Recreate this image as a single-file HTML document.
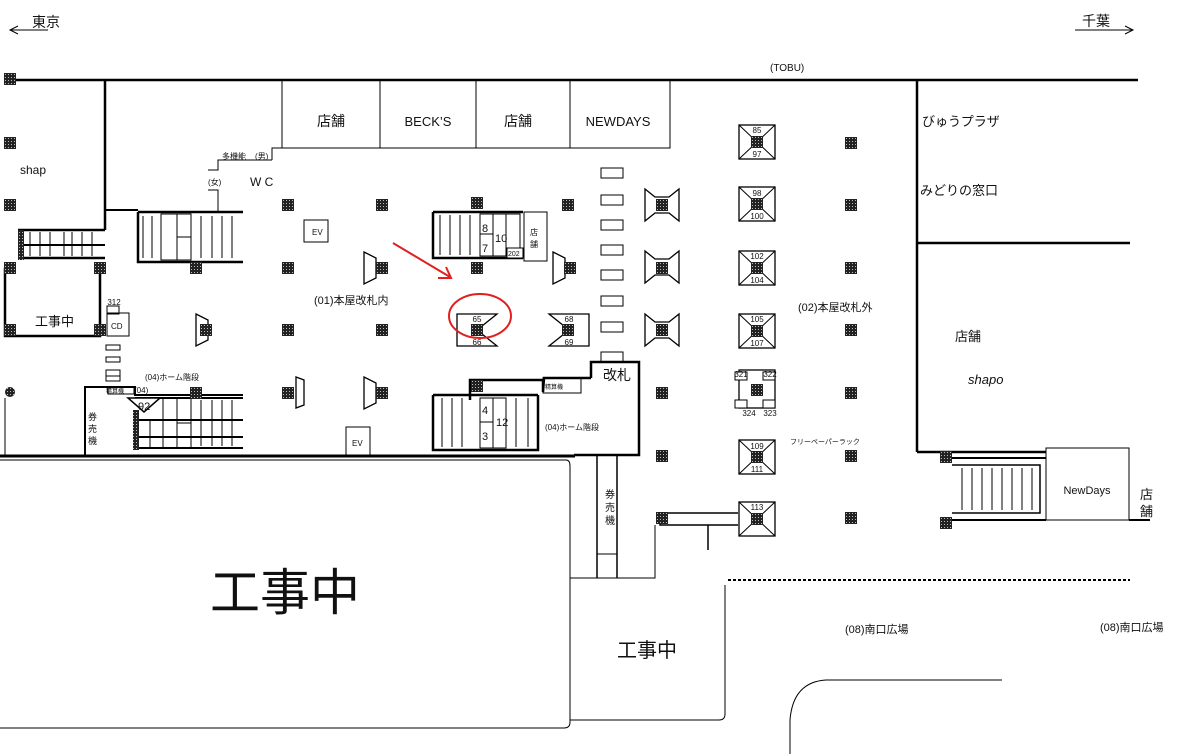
<!DOCTYPE html>
<html><head><meta charset="utf-8"><style>
html,body{margin:0;padding:0;background:#fff;}
svg{display:block;}
text{font-family:"Liberation Sans","Noto Sans CJK JP",sans-serif;fill:#111;}
</style></head><body>
<svg width="1184" height="754" viewBox="0 0 1184 754" xmlns="http://www.w3.org/2000/svg">
<defs>
<pattern id="h" width="3" height="3" patternUnits="userSpaceOnUse"><rect width="3" height="3" fill="#222"/><rect x="1" y="1" width="1" height="1" fill="#bbb"/></pattern>
<g id="p"><rect x="-6" y="-6" width="12" height="12" fill="url(#h)"/></g>
</defs>
<g stroke="#000" fill="none">
<line x1="10" y1="30" x2="48" y2="30" stroke-width="1"/><path d="M18,26 L10,30 L18,34" stroke-width="1"/>
<line x1="1075" y1="30" x2="1133" y2="30" stroke-width="1"/><path d="M1125,26 L1133,30 L1125,34" stroke-width="1"/>
<line x1="10" y1="80" x2="1138" y2="80" stroke-width="2.5"/>
<rect x="282" y="80" width="388" height="68" stroke-width="1"/>
<line x1="380" y1="80" x2="380" y2="148"/><line x1="476" y1="80" x2="476" y2="148"/><line x1="570" y1="80" x2="570" y2="148"/>
<line x1="105" y1="80" x2="105" y2="230" stroke-width="2.5"/>
<line x1="105" y1="210" x2="138" y2="210" stroke-width="2"/>
<path d="M272,160 L272,148 L282,148" stroke-width="1"/><path d="M208,170 L218,170 L218,160 L272,160" stroke-width="1"/>
<path d="M208,190 L218,190 L218,212" stroke-width="1"/>
<path d="M138,212 L243,212 M138,212 L138,262 L243,262" stroke-width="2.5"/>
<g stroke-width="1"><line x1="143" y1="216" x2="143" y2="258"/><line x1="152" y1="216" x2="152" y2="258"/><line x1="201" y1="216" x2="201" y2="258"/><line x1="212" y1="216" x2="212" y2="258"/><line x1="222" y1="216" x2="222" y2="258"/><line x1="232" y1="216" x2="232" y2="258"/></g>
<rect x="161" y="214" width="16" height="46"/><rect x="177" y="214" width="14" height="46"/><line x1="177" y1="237" x2="191" y2="237"/>
<path d="M18,230 L105,230 M18,258 L105,258" stroke-width="2.5"/>
<path d="M18,245 L105,245" stroke-width="2"/>
<g stroke-width="1"><line x1="30" y1="232" x2="30" y2="256"/><line x1="40" y1="232" x2="40" y2="256"/><line x1="50" y1="232" x2="50" y2="256"/><line x1="64" y1="232" x2="64" y2="256"/><line x1="72" y1="232" x2="72" y2="256"/><line x1="82" y1="232" x2="82" y2="256"/><line x1="92" y1="232" x2="92" y2="256"/></g>
<rect x="18" y="230" width="6" height="30" fill="url(#h)" stroke="none"/>
<path d="M5,268 L5,336 L100,336 L100,268" stroke-width="2.5"/>
<rect x="107" y="306" width="12" height="8" stroke-width="1"/><rect x="107" y="313" width="22" height="23" stroke-width="1"/>
<rect x="106" y="345" width="14" height="5"/><rect x="106" y="357" width="14" height="5"/><rect x="106" y="370" width="14" height="6"/><rect x="106" y="376" width="14" height="5"/>
<path d="M85,456 L85,387 L135,387 L135,395 L243,395" stroke-width="2"/>
<path d="M135,398 L243,398 M135,420 L243,420 M135,437 L243,437 M135,448 L243,448" stroke-width="2"/>
<rect x="163" y="398" width="14" height="50" stroke-width="1"/><rect x="177" y="398" width="14" height="50" stroke-width="1"/><line x1="177" y1="423" x2="191" y2="423"/>
<g stroke-width="1"><line x1="201" y1="400" x2="201" y2="446"/><line x1="212" y1="400" x2="212" y2="446"/><line x1="222" y1="400" x2="222" y2="446"/><line x1="232" y1="400" x2="232" y2="446"/><line x1="150" y1="420" x2="150" y2="448"/></g>
<rect x="133" y="410" width="6" height="40" fill="url(#h)" stroke="none"/>
<path d="M128,398 L160,398 L144,412 Z" stroke-width="1.5" fill="#fff"/>
<rect x="108" y="387" width="26" height="7" stroke-width="1"/>
<circle cx="10" cy="392" r="5" fill="url(#h)" stroke="none"/><line x1="5" y1="398" x2="5" y2="456" stroke-width="1"/>
<rect x="304" y="220" width="24" height="22" stroke-width="1"/>
<rect x="346" y="427" width="24" height="29" stroke-width="1"/>
<path d="M433,212 L523,212 M433,212 L433,258 L523,258" stroke-width="2.5"/>
<g stroke-width="1"><line x1="440" y1="215" x2="440" y2="255"/><line x1="450" y1="215" x2="450" y2="255"/><line x1="460" y1="215" x2="460" y2="255"/><line x1="470" y1="215" x2="470" y2="255"/></g>
<rect x="480" y="214" width="13" height="42"/><rect x="493" y="214" width="13" height="42"/><line x1="480" y1="234" x2="493" y2="234"/>
<rect x="506" y="214" width="14" height="42"/><rect x="507" y="248" width="16" height="10" fill="#fff"/>
<rect x="524" y="212" width="23" height="49" stroke-width="1"/>
<path d="M470,400 L470,380 L543,380 L543,392 L544,378 L591,378 M433,395 L538,395 M433,395 L433,450 L538,450 L538,395" stroke-width="2.5"/>
<g stroke-width="1"><line x1="442" y1="398" x2="442" y2="447"/><line x1="452" y1="398" x2="452" y2="447"/><line x1="462" y1="398" x2="462" y2="447"/><line x1="516" y1="398" x2="516" y2="447"/><line x1="528" y1="398" x2="528" y2="447"/></g>
<rect x="480" y="398" width="13" height="50"/><rect x="493" y="398" width="13" height="50"/><line x1="480" y1="422" x2="493" y2="422"/>
<rect x="543" y="378" width="38" height="15" stroke-width="1"/>
<path d="M591,378 L591,362 L639,362 L639,455 L574,455" stroke-width="2.5"/>
<rect x="601" y="352" width="22" height="10" stroke-width="1"/>
<g stroke-width="1"><rect x="601" y="168" width="22" height="10"/><rect x="601" y="195" width="22" height="10"/><rect x="601" y="220" width="22" height="10"/><rect x="601" y="245" width="22" height="10"/><rect x="601" y="270" width="22" height="10"/><rect x="601" y="296" width="22" height="10"/><rect x="601" y="322" width="22" height="10"/></g>
<path d="M597,456 L597,578 M617,456 L617,578" stroke-width="1.5"/><line x1="597" y1="554" x2="617" y2="554" stroke-width="1"/>
<line x1="0" y1="456" x2="575" y2="456" stroke-width="3"/>
<path d="M0,460 L566,460 Q570,460 570,466 L570,722 Q570,728 564,728 L0,728" stroke-width="1"/>
<path d="M570,578 L655,578 L655,525 M570,578 L570,720 L719,720 Q725,720 725,714 L725,585" stroke-width="1"/>
<path d="M660,518 L660,525 L738,525 M660,513 L738,513 M708,525 L708,550" stroke-width="1.5"/>
<line x1="728" y1="580" x2="1130" y2="580" stroke-width="2" stroke-dasharray="3,2"/>
<path d="M790,754 L790,720 Q793,682 826,680 L1002,680" stroke-width="1"/>
<line x1="917" y1="80" x2="917" y2="452" stroke-width="2.5"/>
<line x1="917" y1="243" x2="1130" y2="243" stroke-width="2.5"/>
<line x1="917" y1="452" x2="1046" y2="452" stroke-width="2.5"/>
<rect x="1046" y="448" width="83" height="72" stroke-width="1"/>
<path d="M946,458 L1046,458 M946,520 L1046,520 M1129,520 L1150,520" stroke-width="2"/>
<path d="M952,465 L1040,465 L1040,513 L952,513" stroke-width="1.5"/>
<g stroke-width="1"><line x1="962" y1="468" x2="962" y2="510"/><line x1="972" y1="468" x2="972" y2="510"/><line x1="982" y1="468" x2="982" y2="510"/><line x1="992" y1="468" x2="992" y2="510"/><line x1="1002" y1="468" x2="1002" y2="510"/><line x1="1012" y1="468" x2="1012" y2="510"/><line x1="1022" y1="468" x2="1022" y2="510"/><line x1="1032" y1="468" x2="1032" y2="510"/></g>
<g stroke-width="1.3" fill="#fff">
<path d="M364,252 L376,258 L376,278 L364,284 Z"/><path d="M196,314 L208,320 L208,340 L196,346 Z"/>
<path d="M296,377 L304,380 L304,405 L296,408 Z"/><path d="M364,377 L376,383 L376,403 L364,409 Z"/>
<path d="M553,252 L565,258 L565,278 L553,284 Z"/>
<path d="M457,314 L497,314 L477,330 L497,346 L457,346 Z"/>
<path d="M549,314 L589,314 L589,346 L549,346 L569,330 Z"/>
<path d="M645,189 L655,197 L669,197 L679,189 L679,221 L669,213 L655,213 L645,221 Z"/>
<path d="M645,251 L655,259 L669,259 L679,251 L679,283 L669,275 L655,275 L645,283 Z"/>
<path d="M645,314 L655,322 L669,322 L679,314 L679,346 L669,338 L655,338 L645,346 Z"/>
<rect x="739" y="125" width="36" height="34"/><rect x="739" y="187" width="36" height="34"/><rect x="739" y="251" width="36" height="34"/><rect x="739" y="314" width="36" height="34"/><rect x="739" y="440" width="36" height="34"/><rect x="739" y="502" width="36" height="34"/><rect x="739" y="370" width="36" height="38"/>
</g>
<g stroke-width="1">
<path d="M739,125 L775,159 M775,125 L739,159 M739,187 L775,221 M775,187 L739,221 M739,251 L775,285 M775,251 L739,285 M739,314 L775,348 M775,314 L739,348 M739,440 L775,474 M775,440 L739,474 M739,502 L775,536 M775,502 L739,536"/>
<rect x="735" y="372" width="12" height="8" fill="#fff"/><rect x="763" y="372" width="12" height="8" fill="#fff"/><rect x="735" y="400" width="12" height="8" fill="#fff"/><rect x="763" y="400" width="12" height="8" fill="#fff"/>
</g>
</g>
<g>
<use href="#p" x="10" y="79"/><use href="#p" x="10" y="143"/><use href="#p" x="10" y="205"/><use href="#p" x="10" y="268"/><use href="#p" x="10" y="330"/><use href="#p" x="100" y="268"/><use href="#p" x="100" y="330"/>
<use href="#p" x="196" y="268"/><use href="#p" x="288" y="205"/><use href="#p" x="382" y="205"/><use href="#p" x="288" y="268"/><use href="#p" x="382" y="268"/><use href="#p" x="288" y="330"/><use href="#p" x="382" y="330"/><use href="#p" x="206" y="330"/><use href="#p" x="288" y="393"/><use href="#p" x="382" y="393"/><use href="#p" x="196" y="393"/>
<use href="#p" x="477" y="203"/><use href="#p" x="477" y="268"/><use href="#p" x="477" y="330"/><use href="#p" x="568" y="205"/><use href="#p" x="570" y="268"/><use href="#p" x="568" y="330"/><use href="#p" x="477" y="386"/>
<use href="#p" x="662" y="205"/><use href="#p" x="662" y="268"/><use href="#p" x="662" y="330"/><use href="#p" x="662" y="393"/><use href="#p" x="662" y="456"/><use href="#p" x="662" y="518"/>
<use href="#p" x="757" y="142"/><use href="#p" x="757" y="204"/><use href="#p" x="757" y="268"/><use href="#p" x="757" y="331"/><use href="#p" x="757" y="390"/><use href="#p" x="757" y="457"/><use href="#p" x="757" y="519"/>
<use href="#p" x="851" y="143"/><use href="#p" x="851" y="205"/><use href="#p" x="851" y="268"/><use href="#p" x="851" y="330"/><use href="#p" x="851" y="393"/><use href="#p" x="851" y="456"/><use href="#p" x="851" y="518"/>
<use href="#p" x="946" y="457"/><use href="#p" x="946" y="523"/>
</g>
<line x1="393" y1="243" x2="450" y2="277" stroke="#e02020" stroke-width="2"/><path d="M438,278 L451,278 L446,267" stroke="#e02020" stroke-width="2" fill="none"/>
<ellipse cx="480" cy="316" rx="31" ry="22" fill="none" stroke="#e02020" stroke-width="2"/>
<text x="32" y="27" font-size="14">東京</text><text x="1082" y="26" font-size="14">千葉</text>
<text x="770" y="71" font-size="10">(TOBU)</text>
<text x="331" y="126" font-size="14" text-anchor="middle">店舗</text><text x="428" y="126" font-size="13" text-anchor="middle">BECK’S</text><text x="518" y="126" font-size="14" text-anchor="middle">店舗</text><text x="618" y="126" font-size="13" text-anchor="middle">NEWDAYS</text>
<text x="20" y="174" font-size="12">shap</text>
<text x="222" y="159" font-size="8">多機能</text><text x="255" y="159" font-size="8">(男)</text><text x="208" y="185" font-size="8">(女)</text><text x="250" y="186" font-size="12">W C</text>
<text x="312" y="235" font-size="8">EV</text><text x="352" y="446" font-size="8">EV</text>
<text x="35" y="326" font-size="13">工事中</text><text x="111" y="329" font-size="8">CD</text>
<text x="314" y="304" font-size="11">(01)本屋改札内</text>
<text x="145" y="380" font-size="8">(04)ホーム階段</text><text x="106" y="393" font-size="6">精算機</text><text x="134" y="393" font-size="8">(04)</text><text x="138" y="410" font-size="11">92</text>
<text x="88" y="420" font-size="9">券</text><text x="88" y="432" font-size="9">売</text><text x="88" y="444" font-size="9">機</text>
<text x="545" y="430" font-size="8">(04)ホーム階段</text><text x="545" y="389" font-size="6">精算機</text>
<text x="603" y="380" font-size="14">改札</text>
<text x="605" y="498" font-size="10">券</text><text x="605" y="511" font-size="10">売</text><text x="605" y="524" font-size="10">機</text>
<text x="530" y="235" font-size="8">店</text><text x="530" y="247" font-size="8">舗</text>
<text x="798" y="311" font-size="11">(02)本屋改札外</text>
<text x="790" y="444" font-size="7">フリーペーパーラック</text>
<text x="922" y="126" font-size="13">びゅうプラザ</text><text x="920" y="195" font-size="13">みどりの窓口</text>
<text x="955" y="341" font-size="13">店舗</text><text x="968" y="384" font-size="13" font-style="italic">shapo</text>
<text x="1087" y="494" font-size="11" text-anchor="middle">NewDays</text><text x="1140" y="499" font-size="13">店</text><text x="1140" y="516" font-size="13">舗</text>
<text x="285" y="610" font-size="50" text-anchor="middle">工事中</text>
<text x="647" y="657" font-size="20" text-anchor="middle">工事中</text>
<text x="845" y="633" font-size="11">(08)南口広場</text><text x="1100" y="631" font-size="11">(08)南口広場</text>
<g font-size="8" text-anchor="middle">
<text x="757" y="133">85</text><text x="757" y="157">97</text><text x="757" y="196">98</text><text x="757" y="219">100</text><text x="757" y="259">102</text><text x="757" y="283">104</text><text x="757" y="322">105</text><text x="757" y="346">107</text><text x="757" y="449">109</text><text x="757" y="472">111</text><text x="757" y="510">113</text>
<text x="477" y="322">65</text><text x="477" y="345">66</text><text x="569" y="322">68</text><text x="569" y="345">69</text>
<text x="741" y="377">321</text><text x="770" y="377">322</text><text x="749" y="416">324</text><text x="770" y="416">323</text>
<text x="114" y="305">312</text>
</g>
<g font-size="11"><text x="482" y="414">4</text><text x="482" y="440">3</text><text x="496" y="426">12</text><text x="482" y="232">8</text><text x="482" y="252">7</text><text x="495" y="242">10</text></g>
<text x="508" y="256" font-size="7">202</text>
</svg>
</body></html>
